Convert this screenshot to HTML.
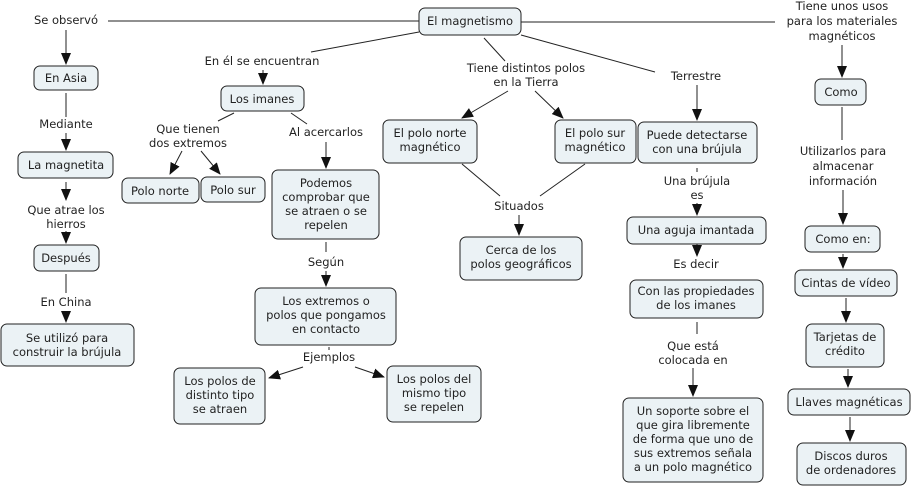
<!DOCTYPE html>
<html><head><meta charset="utf-8"><style>
html,body{margin:0;padding:0;background:#fff;}
svg{display:block;}
text{font-family:"DejaVu Sans","Liberation Sans",sans-serif;font-size:11.5px;fill:#222;text-anchor:middle;}
rect{fill:#ebf2f5;stroke:#222;stroke-width:1;}
line{stroke:#222;stroke-width:1;}
</style></head><body>
<svg width="913" height="487" viewBox="0 0 913 487" xmlns="http://www.w3.org/2000/svg">
<defs><marker id="a" markerWidth="12" markerHeight="10" refX="11" refY="5" orient="auto" markerUnits="userSpaceOnUse"><path d="M0,0 L12,5 L0,10 z" fill="#111"/></marker></defs>
<!-- lines node->label -->
<line x1="419" y1="21" x2="106" y2="21"/>
<line x1="419" y1="32" x2="311" y2="52"/>
<line x1="484" y1="38" x2="505" y2="61"/>
<line x1="521" y1="35" x2="655" y2="72"/>
<line x1="521" y1="22" x2="790" y2="22"/>
<line x1="66" y1="93" x2="66" y2="117"/>
<line x1="234" y1="113" x2="218" y2="121"/>
<line x1="291" y1="113" x2="307" y2="124"/>
<line x1="326" y1="242" x2="326" y2="252"/>
<line x1="329" y1="347" x2="329" y2="350"/>
<line x1="462" y1="164" x2="500" y2="196"/>
<line x1="585" y1="164" x2="540" y2="196"/>
<line x1="697" y1="168" x2="697" y2="172"/>
<line x1="697" y1="252" x2="697" y2="255"/>
<line x1="697" y1="322" x2="697" y2="334"/>
<line x1="842" y1="107" x2="842" y2="140"/>
<line x1="66" y1="274" x2="66" y2="293"/>
<line x1="66" y1="182" x2="66" y2="187"/>
<!-- arrows label->node -->
<g style="marker-end:url(#a)">
<line x1="66" y1="30" x2="66" y2="64"/>
<line x1="66" y1="133" x2="66" y2="150"/>
<line x1="66" y1="185" x2="66" y2="200"/>
<line x1="66" y1="231" x2="66" y2="243"/>
<line x1="66" y1="312" x2="66" y2="322"/>
<line x1="263" y1="70" x2="263" y2="84"/>
<line x1="182" y1="151" x2="170" y2="174"/>
<line x1="201" y1="151" x2="220" y2="174"/>
<line x1="326" y1="142" x2="326" y2="168"/>
<line x1="326" y1="271" x2="326" y2="286"/>
<line x1="303" y1="367" x2="269" y2="378"/>
<line x1="355" y1="367" x2="384" y2="377"/>
<line x1="508" y1="91" x2="462" y2="118"/>
<line x1="535" y1="91" x2="563" y2="118"/>
<line x1="697" y1="85" x2="697" y2="120"/>
<line x1="697" y1="203" x2="697" y2="215"/>
<line x1="697" y1="244" x2="697" y2="256"/>
<line x1="693" y1="368" x2="693" y2="396"/>
<line x1="519" y1="215" x2="519" y2="235"/>
<line x1="842" y1="45" x2="842" y2="77"/>
<line x1="843" y1="190" x2="843" y2="224"/>
<line x1="843" y1="254" x2="843" y2="268"/>
<line x1="846" y1="298" x2="846" y2="322"/>
<line x1="848" y1="369" x2="848" y2="387"/>
<line x1="850" y1="417" x2="850" y2="441"/>
</g>
<!-- nodes -->
<rect x="419" y="8" width="102" height="27" rx="6"/><text x="470" y="25">El magnetismo</text>
<rect x="34" y="66" width="64" height="24" rx="6"/><text x="66" y="82">En Asia</text>
<rect x="18" y="152" width="95" height="26" rx="6"/><text x="66" y="169">La magnetita</text>
<rect x="34" y="245" width="65" height="26" rx="6"/><text x="66" y="262">Después</text>
<rect x="1" y="324" width="133" height="42" rx="6"/><text x="67" y="342">Se utilizó para</text><text x="67" y="356">construir la brújula</text>
<rect x="221" y="86" width="83" height="25" rx="6"/><text x="262" y="103">Los imanes</text>
<rect x="122" y="178" width="77" height="25" rx="6"/><text x="160" y="195">Polo norte</text>
<rect x="201" y="177" width="64" height="25" rx="6"/><text x="233" y="194">Polo sur</text>
<rect x="272" y="170" width="107" height="69" rx="6"/><text x="326" y="187">Podemos</text><text x="326" y="201">comprobar que</text><text x="326" y="215">se atraen o se</text><text x="326" y="229">repelen</text>
<rect x="255" y="288" width="141" height="57" rx="6"/><text x="326" y="305">Los extremos o</text><text x="326" y="319">polos que pongamos</text><text x="326" y="333">en contacto</text>
<rect x="174" y="368" width="91" height="56" rx="6"/><text x="220" y="385">Los polos de</text><text x="220" y="399">distinto tipo</text><text x="220" y="413">se atraen</text>
<rect x="387" y="366" width="94" height="56" rx="6"/><text x="434" y="383">Los polos del</text><text x="434" y="397">mismo tipo</text><text x="434" y="411">se repelen</text>
<rect x="383" y="120" width="94" height="43" rx="6"/><text x="430" y="137">El polo norte</text><text x="430" y="151">magnético</text>
<rect x="555" y="120" width="81" height="43" rx="6"/><text x="595" y="137">El polo sur</text><text x="595" y="151">magnético</text>
<rect x="460" y="237" width="122" height="43" rx="6"/><text x="521" y="254">Cerca de los</text><text x="521" y="268">polos geográficos</text>
<rect x="638" y="122" width="119" height="41" rx="6"/><text x="697" y="139">Puede detectarse</text><text x="697" y="153">con una brújula</text>
<rect x="627" y="217" width="139" height="27" rx="6"/><text x="696" y="234">Una aguja imantada</text>
<rect x="630" y="280" width="133" height="38" rx="6"/><text x="696" y="295">Con las propiedades</text><text x="696" y="309">de los imanes</text>
<rect x="623" y="398" width="140" height="84" rx="6"/><text x="693" y="415">Un soporte sobre el</text><text x="693" y="429">que gira libremente</text><text x="693" y="443">de forma que uno de</text><text x="693" y="457">sus extremos señala</text><text x="693" y="471">a un polo magnético</text>
<rect x="815" y="79" width="51" height="26" rx="6"/><text x="841" y="96">Como</text>
<rect x="805" y="226" width="75" height="26" rx="6"/><text x="843" y="243">Como en:</text>
<rect x="795" y="270" width="102" height="26" rx="6"/><text x="846" y="287">Cintas de vídeo</text>
<rect x="806" y="324" width="78" height="43" rx="6"/><text x="845" y="341">Tarjetas de</text><text x="845" y="355">crédito</text>
<rect x="788" y="389" width="122" height="26" rx="6"/><text x="849" y="406">Llaves magnéticas</text>
<rect x="797" y="443" width="109" height="42" rx="6"/><text x="851" y="460">Discos duros</text><text x="851" y="474">de ordenadores</text>
<!-- labels -->
<g>
<rect x="28" y="10" width="80" height="16" style="fill:#fff;stroke:none"/>
<text x="66" y="24">Se observó</text>
<text x="262" y="65">En él se encuentran</text>
<text x="526" y="72">Tiene distintos polos</text><text x="526" y="86">en la Tierra</text>
<text x="696" y="80">Terrestre</text>
<rect x="775" y="0" width="138" height="44" style="fill:#fff;stroke:none"/>
<text x="842" y="10">Tiene unos usos</text><text x="842" y="25">para los materiales</text><text x="842" y="40">magnéticos</text>
<text x="66" y="128">Mediante</text>
<text x="66" y="214">Que atrae los</text><text x="66" y="228">hierros</text>
<text x="66" y="306">En China</text>
<text x="188" y="133">Que tienen</text><text x="188" y="147">dos extremos</text>
<text x="326" y="136">Al acercarlos</text>
<text x="326" y="266">Según</text>
<text x="329" y="361">Ejemplos</text>
<text x="519" y="210">Situados</text>
<text x="697" y="185">Una brújula</text><text x="697" y="199">es</text>
<text x="696" y="268">Es decir</text>
<text x="693" y="350">Que está</text><text x="693" y="364">colocada en</text>
<text x="843" y="155">Utilizarlos para</text><text x="843" y="170">almacenar</text><text x="843" y="185">información</text>
</g>
</svg>
</body></html>
